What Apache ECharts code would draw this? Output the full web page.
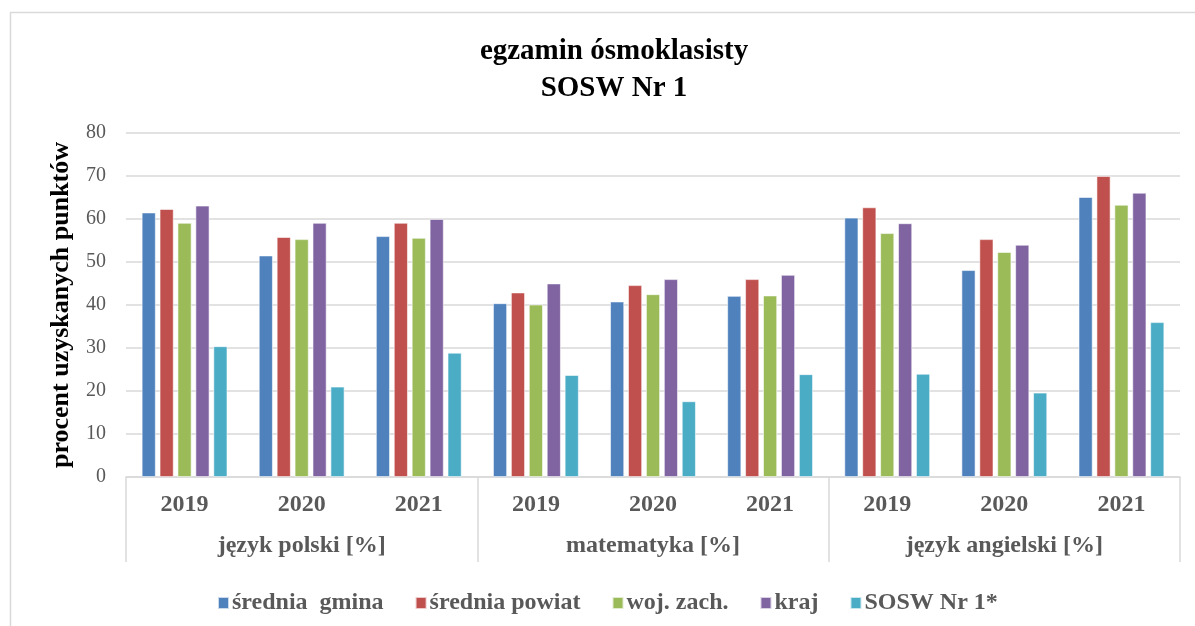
<!DOCTYPE html>
<html>
<head>
<meta charset="utf-8">
<script src="https://cdn.jsdelivr.net/npm/echarts@6/dist/echarts.min.js"></script>
<style>html,body{margin:0;padding:0;background:#fff}#c{width:1195px;height:626px}</style>
</head>
<body>
<div id="c"></div>
<script>
var years = ['2019','2020','2021','2019','2020','2021','2019','2020','2021'];
var subjects = ['język polski [%]','matematyka [%]','język angielski [%]'];
var yTicks = [0,10,20,30,40,50,60,70,80];
var seriesNames = ['średnia  gmina','średnia powiat','woj. zach.','kraj','SOSW Nr 1*'];
var sredniaGmina  = [61.5, 51.5, 56.0, 40.4, 40.8, 42.1, 60.3, 48.1, 65.1];
var sredniaPowiat = [62.3, 55.8, 59.1, 42.9, 44.6, 46.0, 62.7, 55.3, 70.0];
var wojZach       = [59.1, 55.3, 55.6, 40.1, 42.5, 42.2, 56.7, 52.3, 63.3];
var kraj          = [63.1, 59.1, 60.0, 45.0, 46.0, 47.0, 59.0, 54.0, 66.1];
var sosw          = [30.4, 21.0, 28.9, 23.7, 17.6, 23.9, 24.0, 19.6, 36.0];
var colors = ['#4F81BD','#C0504D','#9BBB59','#8064A2','#4BACC6'];
var allData = [sredniaGmina, sredniaPowiat, wojZach, kraj, sosw];

var serif = '"Liberation Serif", "Times New Roman", serif';
var chart = echarts.init(document.getElementById('c'));
chart.setOption({
  animation: false,
  color: colors,
  title: {
    text: 'egzamin ósmoklasisty\nSOSW Nr 1',
    left: 609, top: 28, textAlign: 'center',
    textStyle: {fontFamily: serif, fontWeight: 'bold', fontSize: 29, lineHeight: 37, color: '#000'}
  },
  graphic: [{type: 'rect', shape: {x: 10.5, y: 12.5, width: 1300, height: 800}, style: {fill: 'none', stroke: '#d9d9d9', lineWidth: 1.5}, silent: true}],
  legend: {
    left: 212, top: 586, itemWidth: 11, itemHeight: 12, itemGap: 31,
    icon: 'rect',
    textStyle: {fontFamily: serif, fontWeight: 'bold', fontSize: 24, color: '#595959', padding: [0,0,0,-2]},
    data: seriesNames
  },
  grid: {left: 126, right: 15, top: 133, bottom: 149},
  xAxis: [{
    type: 'category', data: years, position: 'bottom',
    axisLine: {show: true, lineStyle: {color: '#d9d9d9', width: 1.5}},
    axisTick: {show: false},
    axisLabel: {fontFamily: serif, fontWeight: 'bold', fontSize: 24, color: '#595959', margin: 16, interval: 0}
  }, {
    type: 'category', data: subjects, position: 'bottom',
    axisLine: {show: false},
    axisTick: {show: true, length: 85, interval: 0, lineStyle: {color: '#d9d9d9', width: 1.5}},
    axisLabel: {fontFamily: serif, fontWeight: 'bold', fontSize: 24, color: '#595959', margin: 57, interval: 0}
  }],
  yAxis: {
    type: 'value', min: yTicks[0], max: yTicks[yTicks.length-1], interval: 10,
    name: 'procent uzyskanych punktów', nameLocation: 'middle', nameGap: 52,
    nameTextStyle: {fontFamily: serif, fontWeight: 'bold', fontSize: 26, color: '#000'},
    axisLine: {show: false}, axisTick: {show: false},
    axisLabel: {fontFamily: serif, fontSize: 20, color: '#595959', margin: 20},
    splitLine: {lineStyle: {color: '#d9d9d9', width: 1.5}}
  },
  series: seriesNames.map(function(n, i){
    return {
      name: n, type: 'bar', xAxisIndex: 0, data: allData[i],
      barWidth: 14, barGap: '28%',
      itemStyle: {color: colors[i], borderColor: 'rgba(255,255,255,0.7)', borderWidth: 0.8}
    };
  })
});
</script>
</body>
</html>
